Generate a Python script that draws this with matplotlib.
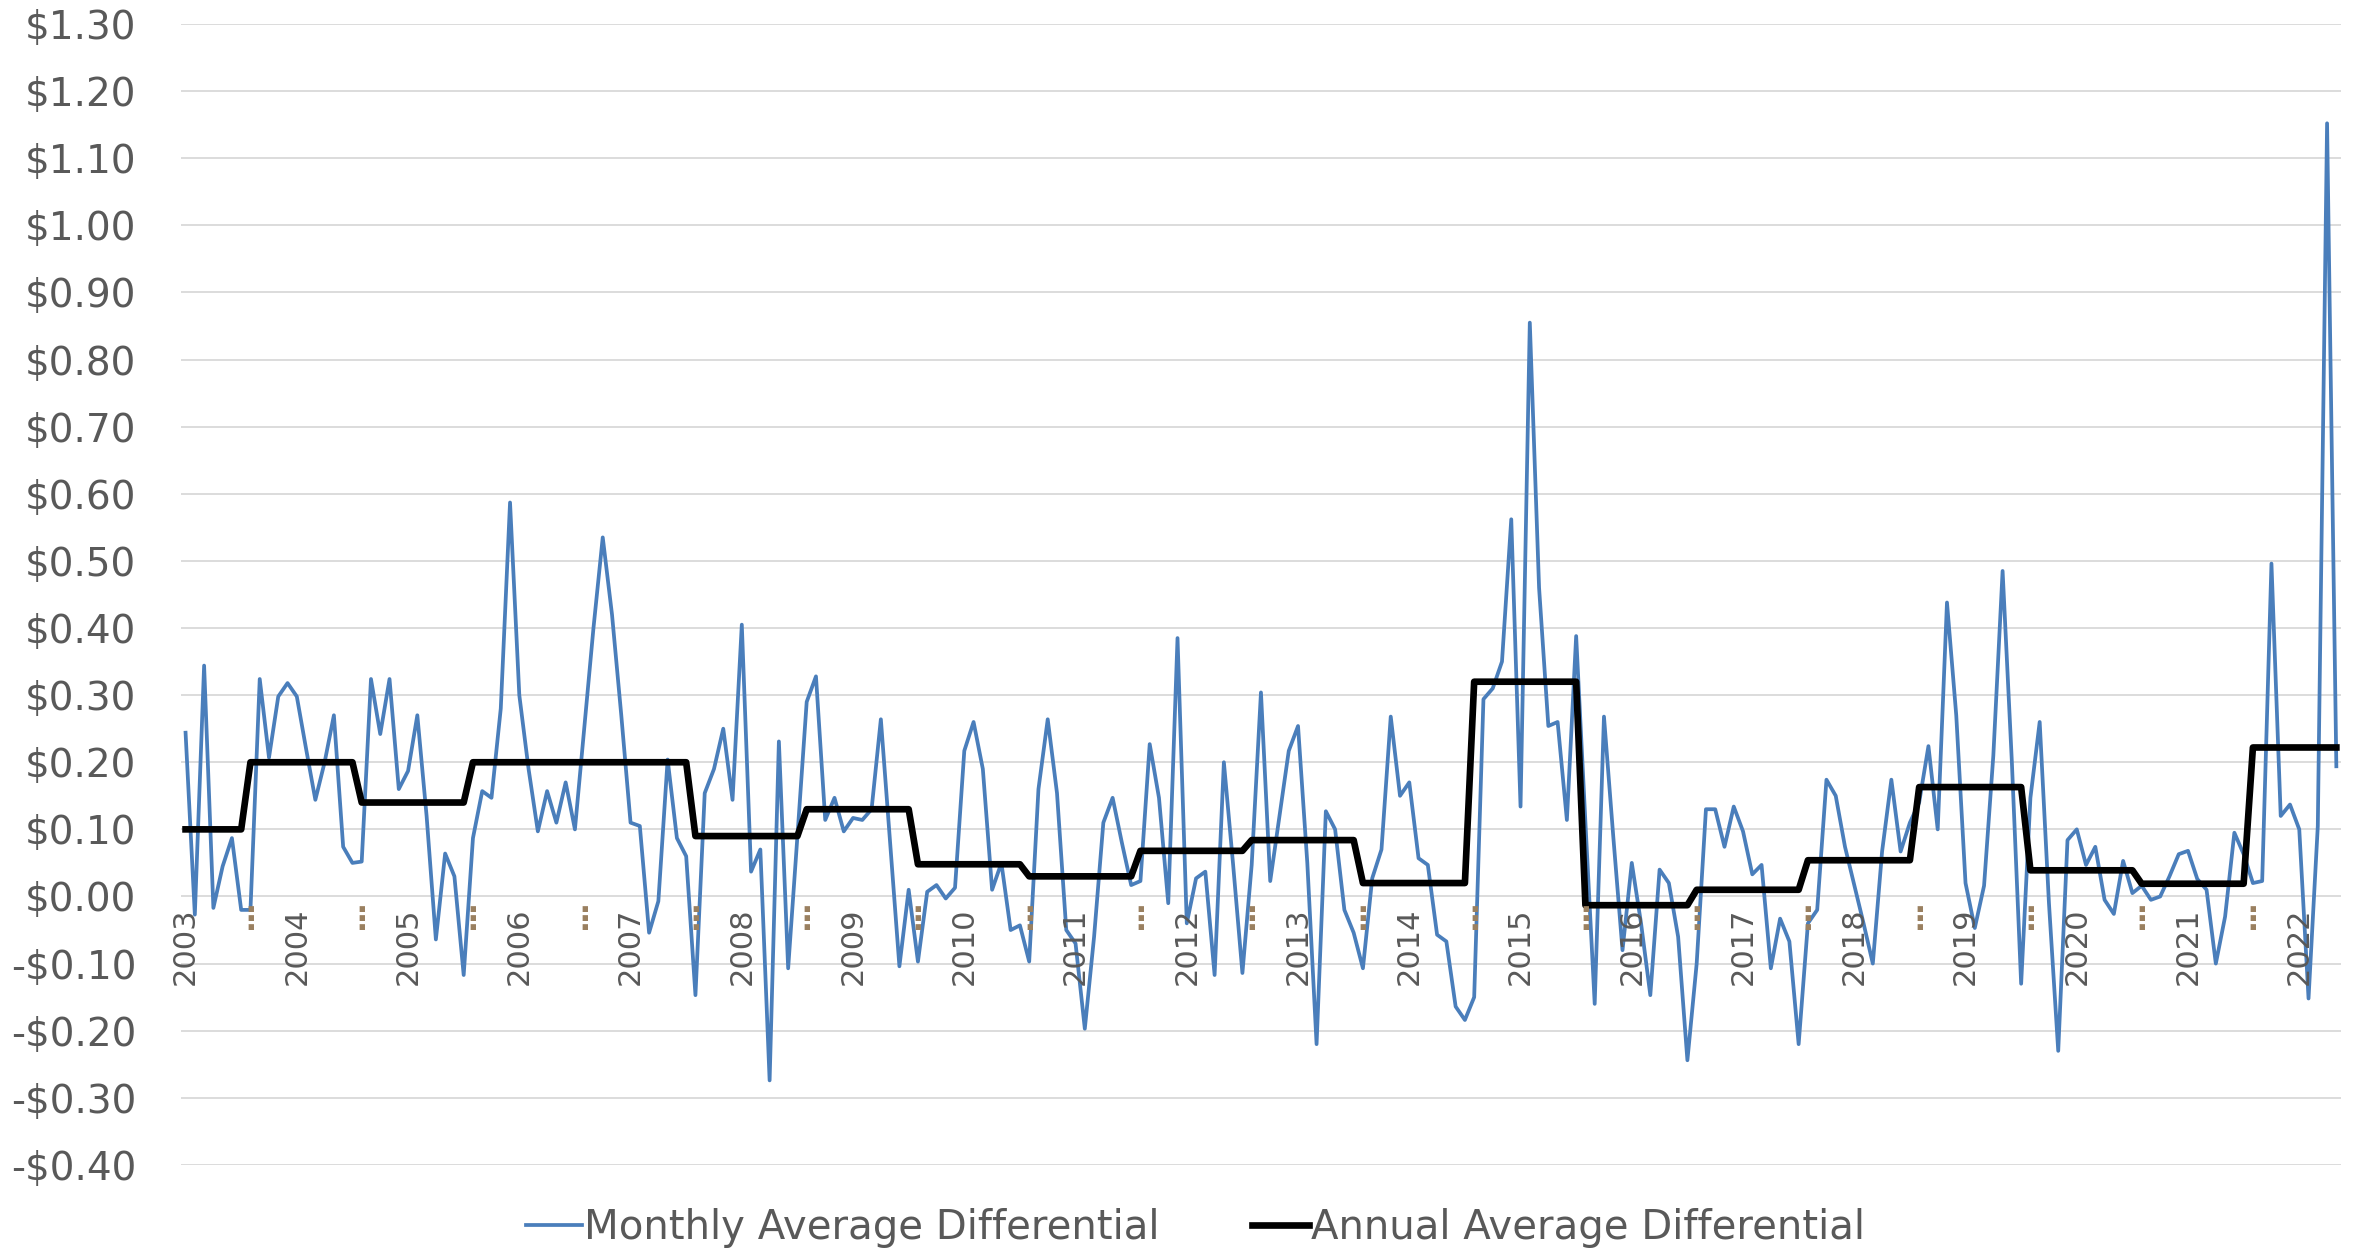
import numpy as np
import matplotlib
matplotlib.use("Agg")
import matplotlib.pyplot as plt
from matplotlib.ticker import FuncFormatter

# monthly differential, starting Jan 2003
monthly = [
    0.244, -0.027, 0.344, -0.017, 0.045, 0.087, -0.02, -0.02, 0.324, 0.207, 0.298, 0.318,
    0.298, 0.22, 0.144, 0.2, 0.27, 0.074, 0.05, 0.052, 0.324, 0.242, 0.324, 0.16,
    0.187, 0.27, 0.12, -0.064, 0.064, 0.03, -0.117, 0.087, 0.157, 0.147, 0.28, 0.587,
    0.30, 0.19, 0.097, 0.157, 0.11, 0.17, 0.10, 0.25, 0.40, 0.535, 0.42, 0.27,
    0.11, 0.105, -0.054, -0.007, 0.204, 0.087, 0.06, -0.147, 0.154, 0.19, 0.25, 0.144,
    0.405, 0.037, 0.07, -0.274, 0.231, -0.107, 0.09, 0.29, 0.328, 0.114, 0.147, 0.097,
    0.117, 0.114, 0.13, 0.264, 0.08, -0.104, 0.01, -0.097, 0.007, 0.017, -0.003, 0.013,
    0.217, 0.26, 0.19, 0.01, 0.05, -0.05, -0.043, -0.097, 0.16, 0.264, 0.154, -0.05,
    -0.07, -0.197, -0.06, 0.11, 0.147, 0.08, 0.017, 0.023, 0.227, 0.147, -0.01, 0.385,
    -0.04, 0.027, 0.037, -0.117, 0.2, 0.047, -0.114, 0.047, 0.304, 0.023, 0.12, 0.217,
    0.254, 0.05, -0.22, 0.127, 0.10, -0.02, -0.054, -0.107, 0.027, 0.07, 0.268, 0.15,
    0.17, 0.057, 0.047, -0.057, -0.067, -0.164, -0.184, -0.15, 0.294, 0.31, 0.35, 0.562,
    0.134, 0.855, 0.46, 0.254, 0.26, 0.114, 0.388, 0.11, -0.16, 0.268, 0.09, -0.08,
    0.05, -0.04, -0.147, 0.04, 0.02, -0.06, -0.244, -0.1, 0.13, 0.13, 0.074, 0.134,
    0.097, 0.033, 0.047, -0.107, -0.033, -0.067, -0.22, -0.04, -0.02, 0.174, 0.15, 0.074,
    0.017, -0.04, -0.1, 0.067, 0.174, 0.067, 0.11, 0.14, 0.224, 0.1, 0.438, 0.27,
    0.02, -0.047, 0.016, 0.21, 0.485, 0.2, -0.13, 0.147, 0.26, -0.01, -0.23, 0.084,
    0.1, 0.047, 0.074, -0.005, -0.026, 0.053, 0.005, 0.016, -0.005, 0.0, 0.03, 0.063,
    0.068, 0.026, 0.01, -0.1, -0.03, 0.095, 0.063, 0.02, 0.023, 0.496, 0.12, 0.137,
    0.1, -0.152, 0.105, 1.152, 0.194,
]

# annual averages and how many months each one covers
annual = [0.10, 0.20, 0.14, 0.20, 0.20, 0.09, 0.13, 0.048, 0.03, 0.068,
          0.084, 0.02, 0.32, -0.013, 0.01, 0.054, 0.163, 0.039, 0.019, 0.222]
annual_months = [7] + [12] * 18 + [10]

years = [str(y) for y in range(2003, 2023)]

annual_line = np.repeat(annual, annual_months)
x = np.arange(len(monthly))

text_col = "#595959"
plt.rcParams["font.family"] = ["DejaVu Sans"]

fig = plt.figure(figsize=(23.62, 12.49), dpi=100)
ax = fig.add_axes([0.0766, 0.0673, 0.9145, 0.9135])

ax.plot(x, monthly, color="#4A7EBB", lw=2.7, label="Monthly Average Differential")
ax.plot(x, annual_line, color="black", lw=4.8, label="Annual Average Differential")

ax.set_xlim(-0.5, len(monthly) - 0.5)
ax.set_ylim(-0.40, 1.30)
ax.set_yticks(np.arange(-0.40, 1.31, 0.10))
ax.yaxis.set_major_formatter(FuncFormatter(
    lambda v, p: ("-$%.2f" % abs(v)) if v < -0.001 else ("$%.2f" % abs(v))))
ax.tick_params(axis="y", length=0, pad=32, labelsize=28, labelcolor=text_col)
ax.set_xticks([])
ax.grid(axis="y", color="#D9D9D9", lw=1.3)
ax.set_axisbelow(True)
for s in ax.spines.values():
    s.set_visible(False)

# category labels sit on the zero line
for i, yr in enumerate(years):
    ax.annotate(yr, xy=(i * 12, 0), xytext=(0, -8), textcoords="offset points",
                rotation=90, ha="center", va="top", fontsize=22, color=text_col)
    if i < len(years) - 1:
        ax.annotate("\u22ee", xy=(i * 12 + 7, 0), xytext=(0, -7), textcoords="offset points",
                    ha="center", va="top", fontsize=22, color="#9A8060",
                    fontweight="bold")

fig.legend(loc="center", bbox_to_anchor=(0.506, 0.017), ncol=2, frameon=False,
           fontsize=29, handlelength=1.4, handletextpad=0.05, columnspacing=2.3,
           borderpad=0, labelcolor=text_col)

fig.savefig("out.png", dpi=100)
